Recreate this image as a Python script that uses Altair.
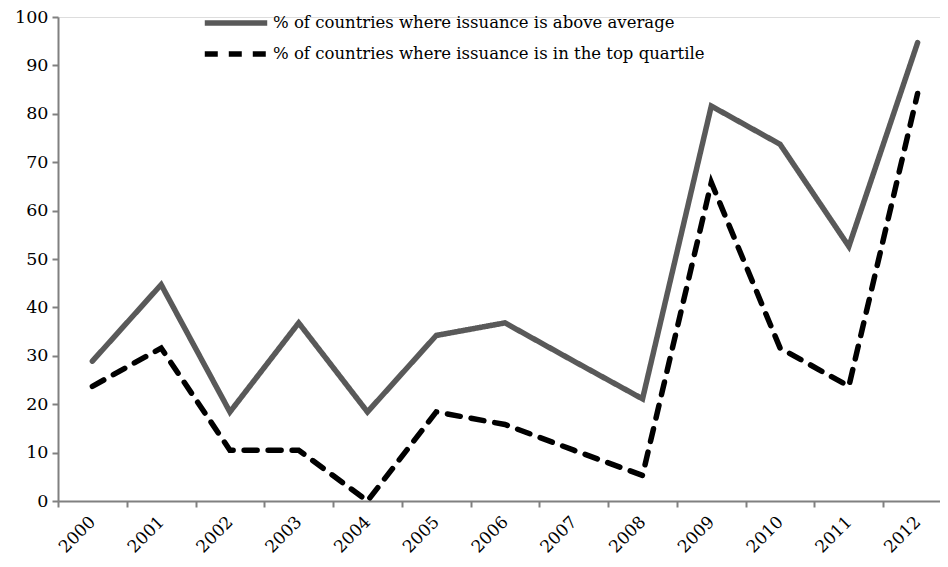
import altair as alt
import pandas as pd

years = [str(y) for y in range(2000, 2013)]
above_average = [28.9, 44.7, 18.4, 36.8, 18.4, 34.2, 36.8, 28.9, 21.1, 81.6, 73.7, 52.6, 94.7]
top_quartile = [23.7, 31.6, 10.5, 10.5, 0.0, 18.4, 15.8, 10.5, 5.3, 65.8, 31.6, 23.7, 84.2]
series_names = [
    "% of countries where issuance is above average",
    "% of countries where issuance is in the top quartile",
]

rows = []
for name, vals in zip(series_names, [above_average, top_quartile]):
    for y, v in zip(years, vals):
        rows.append({"year": y, "value": v, "series": name})
df = pd.DataFrame(rows)

FONT = "DejaVu Serif"

chart = alt.Chart(df).mark_line(strokeWidth=5.5, strokeCap="round", strokeJoin="miter").encode(
    x=alt.X("year:N", sort=years, bandPosition=0.5,
            scale=alt.Scale(type="band", paddingInner=0, paddingOuter=0, range=[0, 894]),
            axis=alt.Axis(title=None, tickBand="extent", labelAngle=-45, labelAlign="right",
                          labelBaseline="middle", labelPadding=12, tickSize=6,
                          labelFont=FONT, labelFontSize=17, labelColor="black",
                          domainColor="#808080", tickColor="#808080",
                          domainWidth=2, tickWidth=2)),
    y=alt.Y("value:Q", scale=alt.Scale(domain=[0, 100], nice=False),
            axis=alt.Axis(title=None, values=list(range(0, 101, 10)), grid=False, tickSize=6,
                          labelFont=FONT, labelFontSize=17.5, labelColor="black", labelPadding=4,
                          domainColor="#808080", tickColor="#808080",
                          domainWidth=2, tickWidth=2)),
    color=alt.Color("series:N", sort=series_names,
                    scale=alt.Scale(domain=series_names, range=["#595959", "#000000"]),
                    legend=alt.Legend(title=None, orient="none", legendX=144, legendY=-5,
                                      symbolType="stroke", symbolSize=3900, symbolStrokeWidth=5.5,
                                      labelFont=FONT, labelFontSize=16.5, labelColor="black",
                                      labelLimit=0, clipHeight=22, rowPadding=9, labelOffset=3)),
    strokeDash=alt.StrokeDash("series:N", sort=series_names,
                              scale=alt.Scale(domain=series_names, range=[[1, 0], [13, 11]]),
                              legend=None),
    detail="series:N",
).properties(
    width=882, height=484,
    padding={"left": 50, "top": 9, "right": 0, "bottom": 56},
    autosize=alt.AutoSizeParams(type="none"),
).configure_view(stroke=None).configure(background="white")

chart.save("out.html", embed_options={"renderer": "svg", "actions": False})
